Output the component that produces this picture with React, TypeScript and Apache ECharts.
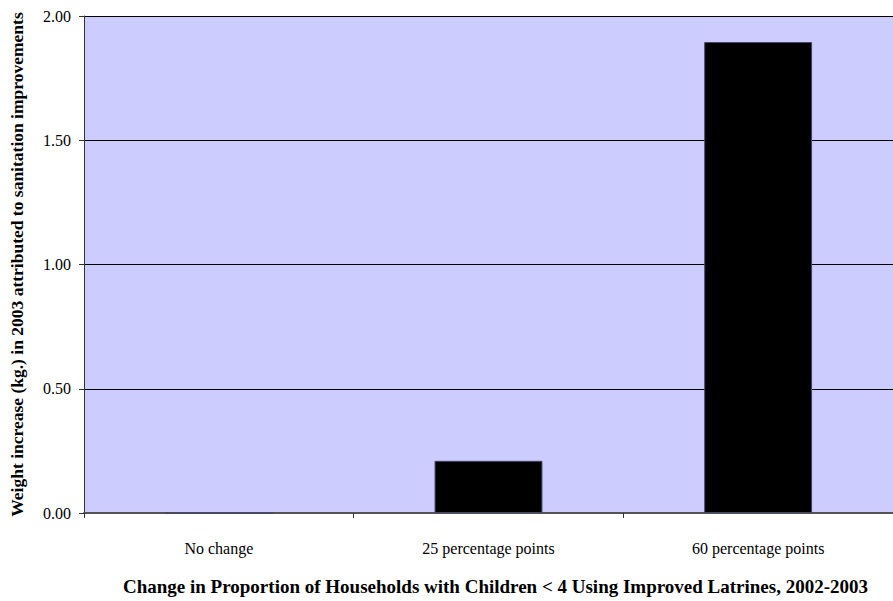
import React, { useEffect, useRef } from "react";
import * as echarts from "echarts";

const categories = ["No change", "25 percentage points", "60 percentage points"];
const values = [0, 0.21, 1.895];
const yTicks = { min: 0, max: 2, interval: 0.5 };
const xTitle = "Change in Proportion of Households with Children < 4 Using Improved Latrines, 2002-2003";
const yTitle = "Weight increase (kg.) in 2003 attributed to sanitation improvements";

export default function App() {
  const ref = useRef<HTMLDivElement>(null);
  useEffect(() => {
    document.body.style.margin = "0";
    const chart = echarts.init(ref.current!, null, { renderer: "svg" });
    const font = "'Liberation Serif', 'Times New Roman', serif";
    chart.setOption({
      animation: false,
      textStyle: { fontFamily: font },
      grid: { left: 81, top: 16, right: 0, bottom: 84, backgroundColor: "#ccccff", show: true, borderWidth: 0 },
      xAxis: {
        type: "category",
        data: categories,
        name: xTitle,
        nameLocation: "middle",
        nameGap: 64,
        nameTextStyle: { fontFamily: font, fontSize: 19, fontWeight: "bold", color: "#000", padding: [0, 0, 0, 14] },
        axisLine: { lineStyle: { color: "#555", width: 2 } },
        axisTick: { show: true, length: 5, lineStyle: { color: "#333" } },
        axisLabel: { fontFamily: font, fontSize: 16, color: "#000", margin: 27 },
      },
      yAxis: {
        type: "value",
        min: yTicks.min,
        max: yTicks.max,
        interval: yTicks.interval,
        name: yTitle,
        nameLocation: "middle",
        nameGap: 58,
        nameTextStyle: { fontFamily: font, fontSize: 17.5, fontWeight: "bold", color: "#000" },
        axisLine: { show: true, lineStyle: { color: "#333" } },
        axisTick: { show: true, length: 5, lineStyle: { color: "#333" } },
        axisLabel: { fontFamily: font, fontSize: 16, color: "#000", margin: 13, formatter: (v: number) => v.toFixed(2) },
        splitLine: { show: true, lineStyle: { color: "#000", width: 1 } },
      },
      series: [
        {
          type: "bar",
          data: values,
          barWidth: "40%",
          itemStyle: { color: "#000", borderColor: "#444466", borderWidth: 1 },
        },
      ],
    });
    return () => chart.dispose();
  }, []);
  return <div ref={ref} style={{ width: 893, height: 601 }} />;
}
